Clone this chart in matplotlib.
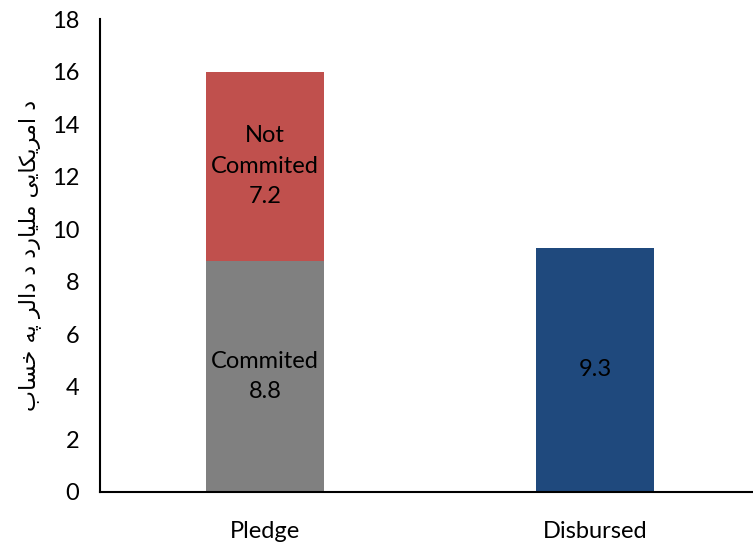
import matplotlib
matplotlib.use('Agg')
import matplotlib.pyplot as plt

categories = ['Pledge', 'Disbursed']
commited = [8.8, 0]
not_commited = [7.2, 0]
disbursed = [0, 9.3]
y_ticks = [0, 2, 4, 6, 8, 10, 12, 14, 16, 18]

# y label, already shaped with Arabic presentation forms (logical order)
words = [
    '\uFEA9',                                                   # د
    '\uFE8D\uFEE3\uFEAE\uFEF3\uFEDC\uFE8E\uFEF3\uFEF0',         # امریکایی
    '\uFEE3\uFEE0\uFEF4\uFE8E\uFEAD\uFEA9',                     # ملیارد
    '\uFEA9',                                                   # د
    '\uFEA9\uFE8D\uFEDF\uFEAE',                                 # دالر
    '\uFB58\uFEEA',                                             # په
    '\uFEA7\uFEB4\uFE8E\uFE8F',                                 # خساب
]
y_label = ' '.join(words)[::-1]

plt.rcParams['font.family'] = ['Lato', 'DejaVu Sans']
fs = 17

fig = plt.figure(figsize=(7.53, 5.46), dpi=100)
ax = fig.add_axes([100 / 753, 54 / 546, 660 / 753, 473 / 546])

x = [0, 1]
width = 0.355
ax.bar(x[0], commited[0], width, color='#808080')
ax.bar(x[0], not_commited[0], width, bottom=commited[0], color='#C0504D')
ax.bar(x[1], disbursed[1], width, color='#1F497D')

ax.text(x[0], commited[0] / 2, 'Commited\n' + str(commited[0]),
        ha='center', va='center', fontsize=fs, linespacing=1.55)
ax.text(x[0], commited[0] + not_commited[0] / 2,
        'Not\nCommited\n' + str(not_commited[0]),
        ha='center', va='center', fontsize=fs, linespacing=1.55)
ax.text(x[1], disbursed[1] / 2, str(disbursed[1]),
        ha='center', va='center', fontsize=fs)

ax.set_xlim(-0.5, 1.5)
ax.set_ylim(0, 18)
ax.set_yticks(y_ticks)
ax.set_xticks(x)
ax.set_xticklabels(categories)
ax.tick_params(axis='both', length=0, labelsize=fs)
ax.tick_params(axis='y', pad=15)
ax.tick_params(axis='x', pad=21)
for side in ['top', 'right']:
    ax.spines[side].set_visible(False)
for side in ['left', 'bottom']:
    ax.spines[side].set_linewidth(1.5)

ax.set_ylabel(y_label, family='DejaVu Sans', fontsize=16, labelpad=8)

fig.savefig('out.png', dpi=100)
